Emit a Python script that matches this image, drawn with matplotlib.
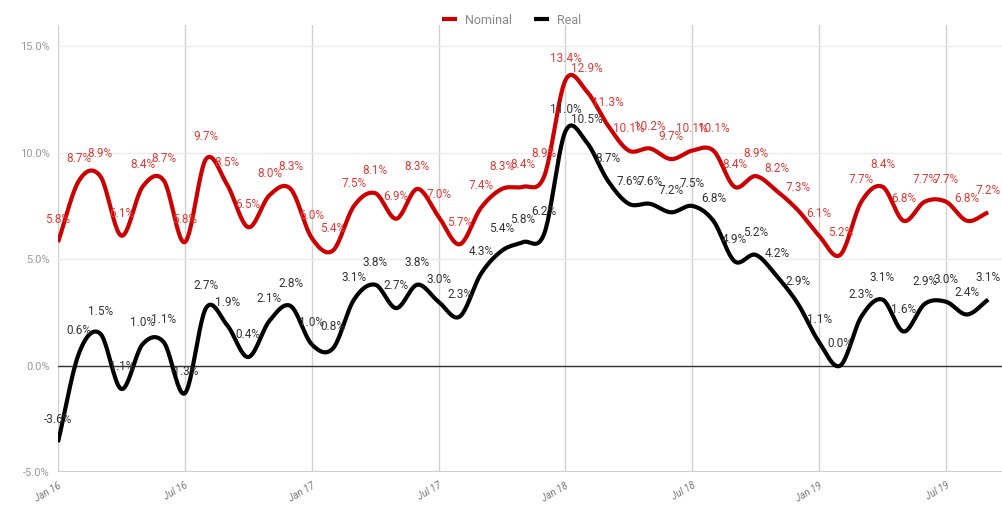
import numpy as np
import matplotlib
matplotlib.use("Agg")
import matplotlib.pyplot as plt

plt.rcParams['font.family'] = ['Roboto', 'DejaVu Sans']

# Monthly growth rates, Jan 2016 .. Sep 2019
months = np.arange(45)
nominal = [5.8, 8.7, 8.9, 6.1, 8.4, 8.7, 5.8, 9.7, 8.5, 6.5, 8.0, 8.3,
           6.0, 5.4, 7.5, 8.1, 6.9, 8.3, 7.0, 5.7, 7.4, 8.3, 8.4, 8.9,
           13.4, 12.9, 11.3, 10.1, 10.2, 9.7, 10.1, 10.1, 8.4, 8.9, 8.2, 7.3,
           6.1, 5.2, 7.7, 8.4, 6.8, 7.7, 7.7, 6.8, 7.2]
real = [-3.6, 0.6, 1.5, -1.1, 1.0, 1.1, -1.3, 2.7, 1.9, 0.4, 2.1, 2.8,
        1.0, 0.8, 3.1, 3.8, 2.7, 3.8, 3.0, 2.3, 4.3, 5.4, 5.8, 6.2,
        11.0, 10.5, 8.7, 7.6, 7.6, 7.2, 7.5, 6.8, 4.9, 5.2, 4.2, 2.9,
        1.1, 0.0, 2.3, 3.1, 1.6, 2.9, 3.0, 2.4, 3.1]

tick_pos = [0, 6, 12, 18, 24, 30, 36, 42]
tick_labels = ['Jan 16', 'Jul 16', 'Jan 17', 'Jul 17', 'Jan 18', 'Jul 18', 'Jan 19', 'Jul 19']


def smooth(x, y, n=24):
    # Catmull-Rom style cubic through the points (drawing only)
    x = np.asarray(x, float)
    y = np.asarray(y, float)
    m = np.zeros_like(y)
    m[1:-1] = (y[2:] - y[:-2]) / 2
    m[0] = y[1] - y[0]
    m[-1] = y[-1] - y[-2]
    xs, ys = [], []
    t = np.linspace(0, 1, n, endpoint=False)
    for i in range(len(x) - 1):
        h00 = 2 * t**3 - 3 * t**2 + 1
        h10 = t**3 - 2 * t**2 + t
        h01 = -2 * t**3 + 3 * t**2
        h11 = t**3 - t**2
        xs.append(x[i] + t * (x[i + 1] - x[i]))
        ys.append(h00 * y[i] + h10 * m[i] + h01 * y[i + 1] + h11 * m[i + 1])
    xs.append([x[-1]])
    ys.append([y[-1]])
    return np.concatenate(xs), np.concatenate(ys)


fig = plt.figure(figsize=(10.03, 5.09), dpi=100)
ax = fig.add_axes([58 / 1003, 37 / 509, 1 - 58 / 1003, 447 / 509])

red = '#cc0000'
ax.set_xlim(0, 44.7)
ax.set_ylim(-5, 16)

ax.set_yticks([-5, 0, 5, 10, 15])
ax.set_yticklabels(['-5.0%', '0.0%', '5.0%', '10.0%', '15.0%'], color='#999999', fontsize=8)
ax.set_xticks(tick_pos)
ax.set_xticklabels(tick_labels, rotation=30, ha='right', rotation_mode='anchor',
                   color='#777777', fontsize=7, style='italic')
ax.tick_params(length=0, pad=6)

for s in ax.spines.values():
    s.set_visible(False)
ax.grid(axis='y', color='#ebebeb', lw=1)
for p in tick_pos:
    ax.axvline(p, color='#d0d0d0', lw=1, zorder=0)
ax.axhline(0, color='#333333', lw=1, zorder=1)
ax.axhline(-5, color='#d0d0d0', lw=1.5, zorder=1)
ax.set_axisbelow(True)

xs, ys = smooth(months, nominal)
ax.plot(xs, ys, color=red, lw=3, label='Nominal', solid_capstyle='butt', zorder=3)
xs, ys = smooth(months, real)
ax.plot(xs, ys, color='black', lw=3, label='Real', solid_capstyle='butt', zorder=3)

for x, v in zip(months, nominal):
    ax.annotate('{:.1f}%'.format(v), (x, v), xytext=(0, 16), textcoords='offset points',
                ha='center', va='center', fontsize=8.5, color='#e53935', zorder=4)
for x, v in zip(months, real):
    ax.annotate('{:.1f}%'.format(v), (x, v), xytext=(0, 16), textcoords='offset points',
                ha='center', va='center', fontsize=8.5, color='#333333', zorder=4)

leg = fig.legend(loc='center', bbox_to_anchor=(0.51, 1 - 20 / 509), ncol=2, frameon=False,
                 fontsize=9, handlelength=1.2, handletextpad=0.6, columnspacing=1.8)
for t in leg.get_texts():
    t.set_color('#888888')

fig.savefig('out.png', dpi=100)
